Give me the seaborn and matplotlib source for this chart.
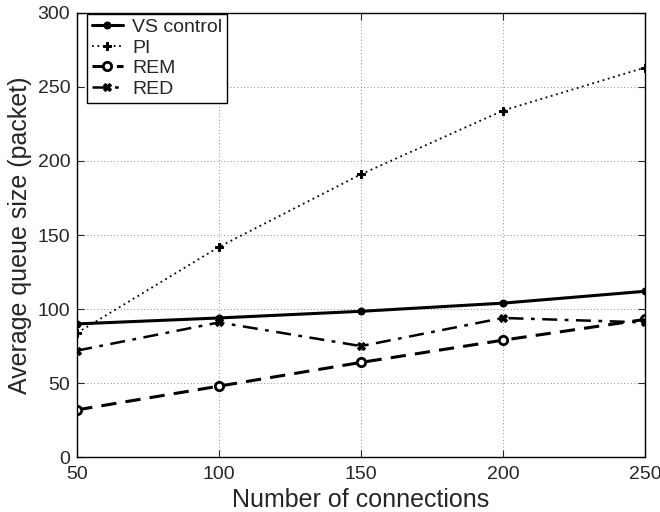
import matplotlib
matplotlib.use("Agg")
import matplotlib.pyplot as plt
import seaborn as sns
import pandas as pd

# values
connections = [50, 100, 150, 200, 250]
vs_control = [90, 94, 98.5, 104, 112]
pi = [84, 142, 191, 234, 263]
rem = [32, 48, 64, 79, 93]
red = [72, 91, 75, 94, 91]

sns.set_style("ticks")
plt.rcParams["font.family"] = ["Liberation Sans", "DejaVu Sans"]

fig = plt.figure(figsize=(6.6, 5.12), dpi=100)
ax = fig.add_axes([0.117, 0.107, 0.86, 0.868])

series = [
    ("VS control", vs_control, dict(linestyle="-", linewidth=2.2, marker="o", markersize=5,
                                    markerfacecolor="black")),
    ("PI", pi, dict(linestyle=(0, (1, 2)), linewidth=1.3, marker="P", markersize=6,
                    markerfacecolor="black")),
    ("REM", rem, dict(linestyle=(0, (5, 3)), linewidth=2.2, marker="o", markersize=6,
                      markerfacecolor="white", markeredgewidth=2)),
    ("RED", red, dict(linestyle=(0, (6, 3, 1.5, 3)), linewidth=1.8, marker="X", markersize=6,
                      markerfacecolor="black")),
]

for name, vals, kw in series:
    df = pd.DataFrame({"x": connections, "y": vals})
    sns.lineplot(data=df, x="x", y="y", ax=ax, color="black", label=name,
                 markeredgecolor="black", **kw)

ax.set_xlim(50, 250)
ax.set_ylim(0, 300)
ax.set_xticks(connections)
ax.set_yticks(range(0, 301, 50))
ax.grid(True, linestyle=(0, (1, 3)), color="black", linewidth=0.6, alpha=0.6)
ax.tick_params(direction="in", labelsize=14, length=5, top=True, right=True)
ax.tick_params(axis="x", pad=6)
ax.tick_params(axis="y", pad=5)
for s in ax.spines.values():
    s.set_color("black")
    s.set_linewidth(1)

ax.set_xlabel("Number of connections", fontsize=18, labelpad=4)
ax.set_ylabel("Average queue size (packet)", fontsize=18)

leg = ax.legend(loc="upper left", fontsize=14, frameon=True, fancybox=False,
                edgecolor="black", framealpha=1, bbox_to_anchor=(0.015, 1.0),
                borderaxespad=0.05, handlelength=1.6, handletextpad=0.5,
                labelspacing=0.15, borderpad=0.25)
leg.get_frame().set_linewidth(1)

fig.savefig("out.png", dpi=100)
